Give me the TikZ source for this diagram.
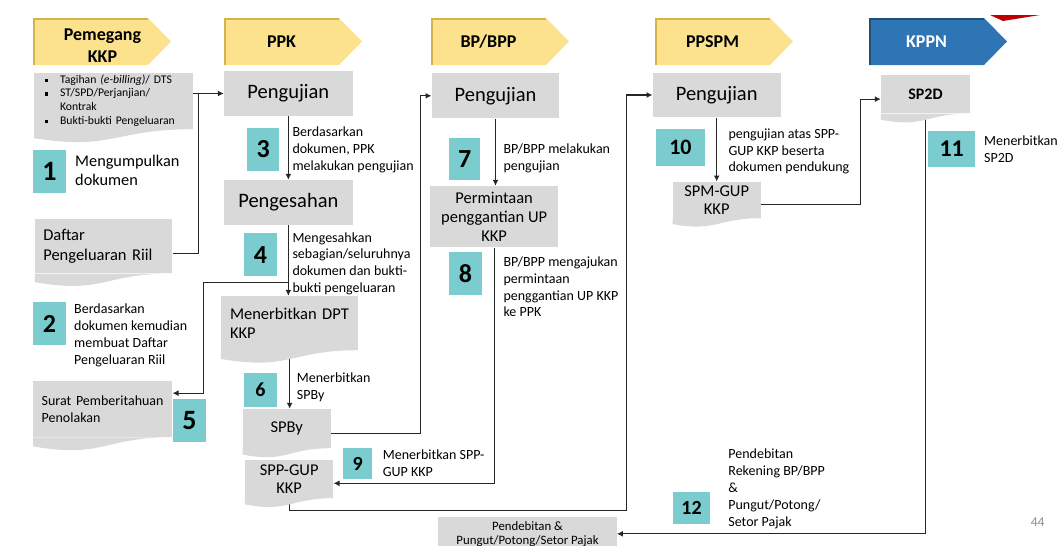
\documentclass[tikz,border=0pt]{standalone}
\usepackage{fontspec}
\setmainfont{Carlito}
\usetikzlibrary{arrows.meta,calc}

\definecolor{lanegold}{RGB}{253,226,142}
\definecolor{goldedge}{RGB}{214,178,78}
\definecolor{laneblue}{RGB}{46,117,182}
\definecolor{blueedge}{RGB}{31,78,121}
\definecolor{boxgray}{RGB}{217,217,217}
\definecolor{numteal}{RGB}{122,204,207}

\begin{document}
\begin{tikzpicture}[
    x=1pt, y=-1pt,
    >={Latex[length=6pt,width=6pt]},
    lane/.style={
      align=center,
      inner sep=0pt,
      font=\fontsize{18}{22}\selectfont\bfseries
    },
    laneedge/.style={line width=1.5pt},
    box/.style={
      fill=boxgray,
      inner sep=0pt,
      align=center,
      font=\fontsize{16.5}{18.6}\selectfont
    },
    big/.style={font=\fontsize{20.5}{24}\selectfont},
    num/.style={
      fill=numteal,
      inner sep=0pt,
      font=\fontsize{26}{26}\selectfont\bfseries
    },
    note/.style={
      anchor=base west,
      align=left,
      inner sep=0pt,
      font=\fontsize{14}{16.7}\selectfont
    },
    link/.style={draw=black!85, line width=1.2pt}
  ]

    \useasboundingbox (0,0) rectangle (1060,546);

    % --- Corner mark
    \fill[red!75!black] (990,15) -- (1040,15) -- (1003,21) -- cycle;

    % --- Lane headers (notes and headers sit on the baseline of their last line)
    \fill[lanegold] (33,18) -- ++(115,0) -- ++(23,23.5) -- ++(-23,23.5) -- ++(-115,0) -- cycle;
    \draw[laneedge, goldedge] (33.75,65) -- (33.75,18.75) -- (148,18.75);
    \node[lane, anchor=base] (pemegang) at (102.5,62) {Pemegang\\KKP};

    \fill[lanegold] (224,18) -- ++(115,0) -- ++(23,23.5) -- ++(-23,23.5) -- ++(-115,0) -- cycle;
    \draw[laneedge, goldedge] (224.75,65) -- (224.75,18.75) -- (339,18.75);
    \node[lane, anchor=base] (ppk) at (281.5,47.5) {PPK};

    \fill[lanegold] (431,18) -- ++(115,0) -- ++(23,23.5) -- ++(-23,23.5) -- ++(-115,0) -- cycle;
    \draw[laneedge, goldedge] (431.75,65) -- (431.75,18.75) -- (546,18.75);
    \node[lane, anchor=base] (bpp) at (488.5,47.5) {BP/BPP};

    \fill[lanegold] (655,18) -- ++(115,0) -- ++(23,23.5) -- ++(-23,23.5) -- ++(-115,0) -- cycle;
    \draw[laneedge, goldedge] (655.75,65) -- (655.75,18.75) -- (770,18.75);
    \node[lane, anchor=base] (ppspm) at (712.5,47.5) {PPSPM};

    \fill[laneblue] (869,18) -- ++(115,0) -- ++(23,23.5) -- ++(-23,23.5) -- ++(-115,0) -- cycle;
    \draw[laneedge, blueedge] (869.75,65) -- (869.75,18.75) -- (984,18.75);
    \node[lane, anchor=base, text=white] (kppn) at (926.5,47.5) {KPPN};

    % --- Pemegang KKP column
    \node[box, minimum width=158.4, minimum height=56, text width=137, inner xsep=10.7,
          align=left, font=\fontsize{11.7}{13.8}\selectfont] (docs) at (113.5,101)
      {\begin{tabular}{@{}l@{\hspace{11.7pt}}l@{}}
        \rule[1.1pt]{3.3pt}{3.3pt} & Tagihan \textit{(e-billing)}/ DTS\\
        \rule[1.1pt]{3.3pt}{3.3pt} & ST/SPD/Perjanjian/\\
                                   & Kontrak\\
        \rule[1.1pt]{3.3pt}{3.3pt} & Bukti-bukti Pengeluaran
       \end{tabular}};
    \node[num, minimum width=33, minimum height=43, font=\fontsize{28}{28}\selectfont\bfseries] (s1) at (49.5,171.5) {1};
    \node[note, font=\fontsize{16.3}{18.3}\selectfont] (t1) at (75,185) {Mengumpulkan\\dokumen};
    \node[box, minimum width=137.3, minimum height=54, text width=120.7, inner xsep=8.3,
          align=left, font=\fontsize{16.5}{19.4}\selectfont] (dpr) at (103.65,246.3) {Daftar\\Pengeluaran~Riil};
    \node[num, minimum width=32.7, minimum height=42.7] (s2) at (49.4,323.7) {2};
    \node[note] (t2) at (74,364) {Berdasarkan\\dokumen kemudian\\membuat Daftar\\Pengeluaran Riil};
    \node[box, minimum width=139, minimum height=56.3, text width=122.2, inner xsep=8.4,
          align=left, font=\fontsize{14}{16.7}\selectfont] (spt) at (102.8,408.9) {Surat~Pemberitahuan\\Penolakan};
    \node[num, minimum width=32.4, minimum height=42.7, font=\fontsize{28}{28}\selectfont\bfseries] (s5) at (189.5,420.7) {5};

    % --- PPK column
    \node[box, big, minimum width=128.7, minimum height=45] (ujippk) at (288.35,93.5) {Pengujian};
    \node[num, minimum width=32, minimum height=42.4] (s3) at (263.3,149.5) {3};
    \node[note] (t3) at (292.3,170) {Berdasarkan\\dokumen, PPK\\melakukan pengujian};
    \node[box, big, minimum width=128.7, minimum height=45] (sah) at (288.35,202.5) {Pengesahan};
    \node[num, minimum width=32.4, minimum height=42.7] (s4) at (260.5,254.7) {4};
    \node[note] (t4) at (292.3,292.3) {Mengesahkan\\sebagian/seluruhnya\\dokumen dan bukti-\\bukti pengeluaran};
    \node[box, minimum width=137.3, minimum height=54, text width=119.3, inner xsep=9,
          align=left, font=\fontsize{16.5}{19}\selectfont] (dpt) at (289.65,323) {Menerbitkan~DPT\\KKP};
    \node[num, minimum width=32.4, minimum height=34, font=\fontsize{20}{20}\selectfont\bfseries] (s6) at (260.5,389.7) {6};
    \node[note] (t6) at (296.7,399) {Menerbitkan\\SPBy};
    \node[box, minimum width=88, minimum height=39] (spby) at (286.7,428.5) {SPBy};
    \node[box, minimum width=88.3, minimum height=38] (sppgup) at (289.15,479) {SPP-GUP\\KKP};
    \node[num, minimum width=29, minimum height=30.7, font=\fontsize{20}{20}\selectfont\bfseries] (s9) at (357.8,463.7) {9};
    \node[note] (t9) at (382.7,476) {Menerbitkan SPP-\\GUP KKP};

    % --- BP/BPP column
    \node[box, big, minimum width=127.6, minimum height=45] (ujibpp) at (495.5,95.8) {Pengujian};
    \node[num, minimum width=30.7, minimum height=41.7] (s7) at (464.7,159.2) {7};
    \node[note] (t7) at (503.3,170) {BP/BPP melakukan\\pengujian};
    \node[box, minimum width=128.3, minimum height=61.3, font=\fontsize{16.5}{19}\selectfont] (minta) at (494.15,216.65) {Permintaan\\penggantian UP\\KKP};
    \node[num, minimum width=32.4, minimum height=42.7] (s8) at (465.5,273.7) {8};
    \node[note] (t8) at (503.3,316.7) {BP/BPP mengajukan\\permintaan\\penggantian UP KKP\\ke PPK};

    % --- PPSPM column
    \node[box, big, minimum width=128, minimum height=44.6] (ujispm) at (716.7,95) {Pengujian};
    \node[num, minimum width=49.3, minimum height=36.4, font=\fontsize{22}{22}\selectfont\bfseries] (s10) at (680.4,147.5) {10};
    \node[note] (t10) at (728.3,171.7) {pengujian atas SPP-\\GUP KKP beserta\\dokumen pendukung};
    \node[box, minimum width=88, minimum height=36.3, font=\fontsize{16.5}{18.3}\selectfont] (spmgup) at (716.7,199.85) {SPM-GUP\\KKP};

    % --- KPPN column
    \node[box, minimum width=89, minimum height=38.3, font=\fontsize{16}{19}\selectfont\bfseries] (sptwod) at (925.5,94.15) {SP2D};
    \node[num, minimum width=46.7, minimum height=36, font=\fontsize{24}{24}\selectfont\bfseries] (s11) at (951.7,148.7) {11};
    \node[note] (t11) at (984,162.3) {Menerbitkan\\SP2D};

    % --- Debit step
    \node[num, minimum width=37.3, minimum height=32, font=\fontsize{20}{20}\selectfont\bfseries] (s12) at (691.5,508.3) {12};
    \node[note, font=\fontsize{14}{17}\selectfont] (t12) at (728.2,526) {Pendebitan\\Rekening BP/BPP\\\&\\Pungut/Potong/\\Setor Pajak};
    \node[box, minimum width=178.3, minimum height=33, font=\fontsize{12.8}{14}\selectfont] (debit) at (527.55,533.8) {Pendebitan \&\\Pungut/Potong/Setor Pajak};

    \node[anchor=base west, inner sep=0pt, text=black!45, font=\fontsize{13.5}{14}\selectfont] (page) at (1030.6,526) {44};

    % --- Flow lines
    \coordinate (join1) at (198.3,93.5);
    \coordinate (split4) at (288.35,282.3);
    \draw[->, link] (ujippk.west -| docs.east) -- (ujippk.west);
    \draw[link] ([yshift=-7pt]dpr.east) -| (join1);
    \draw[->, link] (ujippk.south) -- (sah.north);
    \draw[->, link] (sah.south) -- (sah.south |- dpt.north);
    \draw[->, link] (split4) -- ++(-85,0) |- ([yshift=-12.6pt]spt.north east);
    \draw[->, link] (dpt.south) -- (dpt.south |- spby.north);
    \draw[->, link] ([yshift=-4.8pt]spby.east) -- ++(89.3,0) |- (ujibpp.west);
    \draw[->, link] (ujibpp.south) -- (ujibpp.south |- minta.north);
    \draw[->, link] (minta.south) |- ([yshift=-4.3pt]sppgup.east);
    \draw[->, link] (sppgup.south) -- ++(0,12) -- ++(337.7,0) |- (ujispm.west);
    \draw[->, link] (ujispm.south) -- (spmgup.north);
    \draw[->, link] ([yshift=-5pt]spmgup.east) -- ++(99.3,0) |- ([yshift=-5pt]sptwod.west);
    \draw[->, link] (sptwod.south) |- (debit.east);

    % --- Wavy bottoms of the document boxes (drawn last so they mask the lines)
    \foreach \shp in {docs,dpr,spt,dpt,spby,sppgup,spmgup,sptwod}
      \fill[boxgray] let \p1=(\shp.north), \p2=(\shp.south),
                         \n1={0.38*(\y1-\y2)}, \n2={0.16*(\y1-\y2)} in
        (\shp.south east) .. controls (\shp.south) and ([yshift=-\n1]\shp.south)
        .. ([yshift=-\n2]\shp.south west) -- (\shp.south west) -- cycle;

  \end{tikzpicture}
\end{document}
